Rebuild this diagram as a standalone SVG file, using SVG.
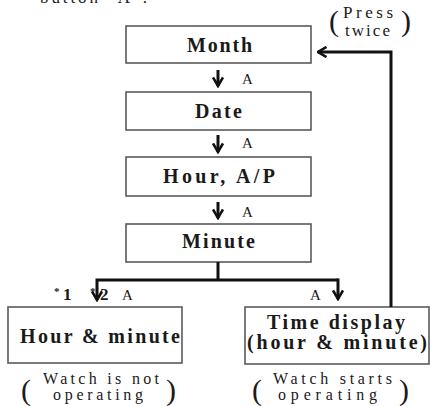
<svg xmlns="http://www.w3.org/2000/svg" width="431" height="406" viewBox="0 0 431 406">
<style>
.box{fill:#fff;stroke:#5a5a5a;stroke-width:1.6}
.t{font-weight:bold;font-size:20px;fill:#1a1a1a}
.s{font-size:17px;fill:#1a1a1a}
.n{font-size:16px;fill:#1a1a1a}
.a{font-size:15px;fill:#1a1a1a}
.sb{font-weight:bold;font-size:17px;fill:#1a1a1a}
.p{font-size:30px;fill:#1a1a1a}
.c{fill:none;stroke:#111;stroke-width:3}
</style>
<defs>
<marker id="ah" viewBox="0 0 12 12" refX="10.5" refY="6" markerWidth="12" markerHeight="12" markerUnits="userSpaceOnUse" orient="auto">
<path d="M2,1 L10.5,6 L2,11" fill="none" stroke="#111" stroke-width="2.6"/>
</marker>
</defs>
<rect width="431" height="406" fill="#fff"/>
<g font-family="Liberation Serif, Times New Roman, serif">
<text class="s" x="40" y="3" textLength="107" lengthAdjust="spacing">button "A".</text>
<g id="note-press">
<text class="p" x="329" y="31" font-size="29">(</text>
<text class="s" x="343" y="18" textLength="50" lengthAdjust="spacing">Press</text>
<text class="s" x="345" y="36" textLength="45" lengthAdjust="spacing">twice</text>
<text class="p" x="401" y="31" font-size="29">)</text>
</g>
<g id="month"><rect class="box" x="126" y="26" width="185" height="37"/><text class="t" x="187" y="52" textLength="65" lengthAdjust="spacing">Month</text></g>
<g id="date"><rect class="box" x="126" y="92" width="185" height="38"/><text class="t" x="195" y="118" textLength="47" lengthAdjust="spacing">Date</text></g>
<g id="hour"><rect class="box" x="126" y="157" width="185" height="39"/><text class="t" x="163" y="183" textLength="112" lengthAdjust="spacing">Hour, A/P</text></g>
<g id="minute"><rect class="box" x="126" y="224" width="185" height="38"/><text class="t" x="182" y="248" textLength="73" lengthAdjust="spacing">Minute</text></g>
<g id="hour-minute"><rect class="box" x="8" y="307" width="174" height="56"/><text class="t" x="20" y="343" textLength="160" lengthAdjust="spacing">Hour &amp; minute</text></g>
<g id="time-display"><rect class="box" x="245" y="307" width="184" height="57"/><text class="t" x="267" y="329" textLength="138" lengthAdjust="spacing">Time display</text><text class="t" x="247" y="349" textLength="180" lengthAdjust="spacing">(hour &amp; minute)</text></g>
<g id="connectors">
<path class="c" d="M218,70 V86" marker-end="url(#ah)"/>
<path class="c" d="M218,135 V152" marker-end="url(#ah)"/>
<path class="c" d="M218,202 V218" marker-end="url(#ah)"/>
<path class="c" d="M218,262 V280"/>
<path class="c" d="M338,280 H97 V300" marker-end="url(#ah)"/>
<path class="c" d="M336.5,280 H338 V299" marker-end="url(#ah)"/>
<path class="c" d="M391,307 V52 H318" marker-end="url(#ah)"/>
</g>
<g id="labels">
<text class="a" x="242" y="84">A</text>
<text class="a" x="242" y="148">A</text>
<text class="a" x="242" y="217">A</text>
<text class="sb" x="54" y="300"><tspan font-size="11" dy="-5">*</tspan><tspan x="63" dy="5">1</tspan></text>
<text class="sb" x="90" y="300"><tspan font-size="11" dy="-5">*</tspan><tspan x="100" dy="5">2</tspan></text>
<text class="a" x="122" y="300">A</text>
<text class="a" x="310" y="300">A</text>
</g>
<g id="note-left">
<text class="p" x="21" y="400">(</text>
<text class="n" x="43" y="384" textLength="116" lengthAdjust="spacing">Watch is not</text>
<text class="n" x="53" y="400" textLength="90" lengthAdjust="spacing">operating</text>
<text class="p" x="166" y="400">)</text>
</g>
<g id="note-right">
<text class="p" x="252" y="400">(</text>
<text class="n" x="273" y="384" textLength="119" lengthAdjust="spacing">Watch starts</text>
<text class="n" x="278" y="400" textLength="99" lengthAdjust="spacing">operating</text>
<text class="p" x="399" y="400">)</text>
</g>
</g>
</svg>
